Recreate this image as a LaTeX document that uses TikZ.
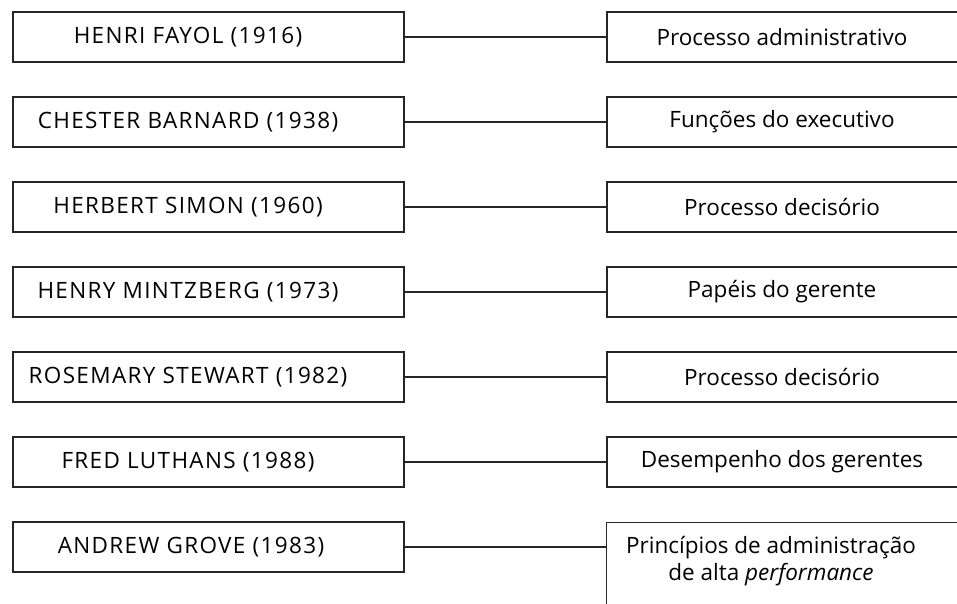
\documentclass[tikz,border=0pt]{standalone}
\usepackage{fontspec}
\setmainfont{Open Sans}
\newfontfamily\capsfont{Open Sans}[LetterSpace=6]
\begin{document}
\begin{tikzpicture}[x=1pt,y=1pt,
  box/.style={draw=black!85,line width=1.3pt,rectangle,inner sep=0pt,minimum height=50pt},
  lbox/.style={box,minimum width=391pt},
  rbox/.style={box,minimum width=360pt},
  txt/.style={font=\fontsize{22.5}{27.5}\selectfont,inner sep=0pt,anchor=center},
  ltxt/.style={txt,font=\capsfont\fontsize{22.5}{27.5}\selectfont},
  conn/.style={draw=black!85,line width=1.2pt}]
\useasboundingbox (0,0) rectangle (957,604);
\clip (0,0) rectangle (957,604);
% rows: centre y = 604-37-85(i-1)
\foreach \i/\lt/\rt in {1/HENRI FAYOL (1916)/Processo administrativo,
                       2/CHESTER BARNARD (1938)/Funções do executivo,
                       3/HERBERT SIMON (1960)/Processo decisório,
                       4/HENRY MINTZBERG (1973)/Papéis do gerente,
                       5/ROSEMARY STEWART (1982)/Processo decisório,
                       6/FRED LUTHANS (1988)/Desempenho dos gerentes}{
  \pgfmathsetmacro{\yy}{567-85*(\i-1)}
  \node[lbox] (l\i) at (208.5,\yy) {};
  \node[ltxt] (lt\i) at (188,\yy) {\lt};
  \node[rbox] (r\i) at (787,\yy) {};
  \node[txt] (rt\i) at (782,\yy) {\rt};
  \draw[conn] (l\i.east) -- (l\i.east -| r\i.west);
}
% row 7
\node[lbox] (l7) at (208.5,57) {};
\node[ltxt] (lt7) at (191,57) {ANDREW GROVE (1983)};
\node[inner sep=0pt,minimum width=360pt,minimum height=81pt] (r7) at (787,40.5) {};
\draw[conn] (r7.north east) -- (r7.north west) -- (r7.south west);
\node[txt,align=center] (rt7) at (771,43) {Princípios de administração\\de alta \textit{performance}};
\draw[conn] (l7.east) -- (l7.east -| r7.west);
\end{tikzpicture}
\end{document}
